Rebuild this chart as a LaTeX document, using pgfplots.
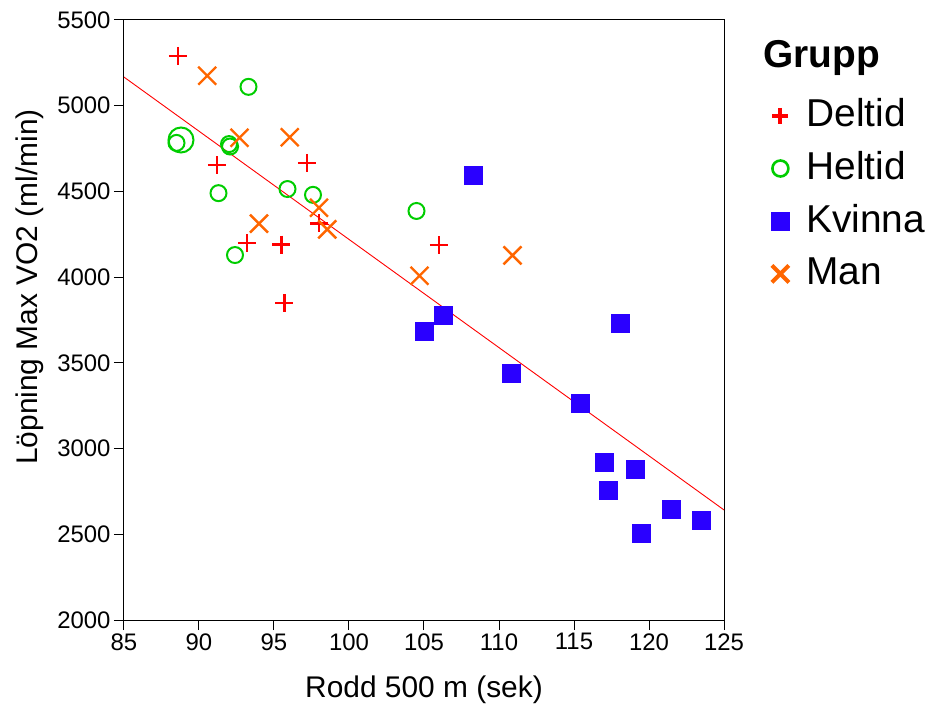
\documentclass[border=0pt]{standalone}
\usepackage{pgfplots}
\pgfplotsset{compat=1.18}
\usepackage{fontspec}
\setmainfont{Liberation Sans}
\definecolor{cdel}{RGB}{255,0,0}
\definecolor{chel}{RGB}{0,205,0}
\definecolor{ckv}{RGB}{42,0,255}
\definecolor{cman}{RGB}{255,102,0}
\begin{document}
\begin{tikzpicture}
\path[use as bounding box] (-124bp,-91bp) rectangle (812bp,620bp);
\begin{axis}[
  scale only axis, width=600bp, height=600bp,
  xmin=85, xmax=125, ymin=2000, ymax=5500,
  xtick={85,90,...,125}, ytick={2000,2500,...,5500},
  axis line style={line width=1bp},
  tick align=outside, xtick pos=bottom, ytick pos=left,
  major tick length=10bp,
  tick style={black, line width=1bp},
  ticklabel style={font=\fontsize{24}{28}\selectfont},
  /pgf/number format/assume math mode=true,
  /pgf/number format/1000 sep={},
  xlabel={Rodd 500 m (sek)},
  ylabel={Löpning Max VO2 (ml/min)},
  label style={font=\fontsize{30}{34}\selectfont},
  xlabel style={at={(axis description cs:0.5,-0.117)}, anchor=center},
  ylabel style={at={(axis description cs:-0.157,0.555)}, anchor=center},
  legend style={draw=none, fill=none, inner sep=0pt, outer sep=0pt,
    at={(axis description cs:1.079,0.872)}, anchor=north west,
    font=\fontsize{39}{39}\selectfont,
    nodes={inner sep=0pt, text height=30bp, text depth=8bp},
    row sep=14.7bp, column sep=17bp},
  legend cell align=left,
  clip=false,
]
\addplot[only marks, mark=+, mark size=9bp, line width=2.4bp, color=cdel,
  legend image post style={line width=4bp, mark size=8bp}] coordinates {
 (88.6,5290) (91.2,4654) (97.2,4666) (93.2,4199) (95.5,4190)
 (95.7,3849) (98.0,4314) (106.0,4187)};
\addlegendentry{Deltid}
\addplot[only marks, mark=o, mark size=8bp, line width=2bp, color=chel,
  legend image post style={line width=2.6bp}] coordinates {
 (93.3,5110) (88.5,4783) (92.0,4776) (92.07,4762) (91.3,4490) (95.9,4514)
 (97.6,4480) (92.4,4129) (104.5,4386)};
\addlegendentry{Heltid}
\addplot[only marks, mark=square*, mark size=9bp, color=ckv] coordinates {
 (108.3,4594) (106.3,3777) (105.0,3684) (110.8,3439) (115.4,3264)
 (118.1,3731) (117.0,2923) (119.1,2879) (117.3,2760) (121.5,2644)
 (123.5,2585) (119.5,2506)};
\addlegendentry{Kvinna}
\addplot[only marks, mark=x, mark size=12.7bp, line width=2.4bp, color=cman,
  legend image post style={line width=4bp, mark size=12bp}] coordinates {
 (90.55,5175) (92.7,4813) (96.05,4816) (98.0,4405) (98.55,4279)
 (94.0,4312) (104.7,4008) (110.9,4127)};
\addlegendentry{Man}
\addplot[only marks, mark=o, mark size=12.5bp, line width=2bp, color=chel, forget plot] coordinates {(88.8,4800)};
\addplot[color=cdel, line width=0.9bp, forget plot] coordinates {(85,5167) (125,2642)};
\node[anchor=base west, font=\bfseries\fontsize{39}{39}\selectfont, inner sep=0pt] at (axis description cs:1.065,0.92) {Grupp};
\end{axis}
\end{tikzpicture}
\end{document}
